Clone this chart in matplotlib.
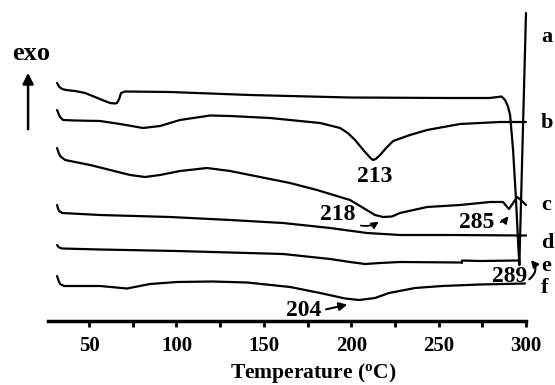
import matplotlib
matplotlib.use('Agg')
import matplotlib.pyplot as plt

plt.rcParams['font.family'] = ['Liberation Serif', 'DejaVu Serif']
plt.rcParams['font.weight'] = 'bold'
plt.rcParams['mathtext.default'] = 'regular'

# DSC traces (stacked, arbitrary heat-flow units)
temp_a = [31.7, 33.0, 34.6, 36.8, 42.0, 47.7, 53.4, 59.0, 62.0, 64.9, 66.0, 67.2, 68.3, 70.6, 96.3,
          142.0, 199.0, 256.5, 279.0, 284.0, 286.0, 288.0, 289.6, 290.9, 292.6, 294.3, 295.4,
          296.2, 300.0]
flow_a = [238, 234, 232, 231, 230, 228, 224, 220, 218, 217.5, 218, 222, 228, 229.5, 229,
          226, 223.5, 223, 223, 224, 224.5, 221, 215, 206, 171, 121, 81,
          56, 308]

temp_b = [31.7, 32.6, 33.4, 35.1, 42.0, 56.3, 67.7, 80.9, 90.6, 102.0, 113.5, 119.2, 130.7, 153.5,
          182.2, 193.6, 198.0, 202.2, 207.9, 211.0, 212.5, 214.0, 216.5, 220.0, 224.0, 233.6,
          243.4, 262.2, 285.1, 300.0]
flow_b = [211, 207, 204, 201, 200.5, 200, 197, 193, 195, 201, 204, 205.5, 205, 203,
          198, 193, 188, 181, 169, 163, 161, 162, 166, 173, 180, 186,
          191, 197, 199, 199]

temp_c = [31.7, 32.6, 33.4, 36.3, 50.6, 73.5, 82.0, 90.6, 102.0, 117.5, 130.7, 142.1, 165.0, 180.4,
          199.3, 207.9, 213.6, 218.2, 223.3, 227.9, 243.4, 262.2, 279.4, 286.8, 290.3, 294.9,
          297.1, 300.0]
flow_c = [173, 168, 165, 161, 156, 146, 144, 146, 150, 153, 150, 146, 138, 131,
          121, 112, 106, 104, 104.5, 108, 114, 116, 119, 119, 112, 124,
          121, 116]

temp_d = [31.7, 32.3, 32.9, 34.6, 56.3, 96.3, 130.7, 161.0, 187.9, 209.0, 228.0, 256.5, 300.0]
flow_d = [116, 112, 110, 108, 106, 104, 101, 98, 93, 88, 86, 86, 85.5]

temp_e = [31.7, 32.3, 32.9, 34.6, 56.3, 100.3, 161.0, 187.9, 199.3, 207.9, 216.5, 227.9, 262.7,
          263.3, 263.4, 273.7, 296.0]
flow_e = [76, 74.5, 73.5, 72.5, 71.5, 70, 67, 62, 59, 57, 58, 59, 58.5,
          58, 60.5, 60, 60.5]

temp_f = [31.7, 32.6, 33.4, 35.7, 56.3, 71.7, 84.9, 100.3, 120.4, 140.4, 165.0, 182.2, 196.5,
          204.5, 213.6, 221.6, 236.5, 252.0, 273.7, 299.4]
flow_f = [45, 40, 37, 35, 35, 32.5, 37, 39, 39.5, 38.5, 34, 28, 22.5,
          21, 23, 28, 33, 35, 36.5, 37.5]

curve_labels = ['a', 'b', 'c', 'd', 'e', 'f']
curve_label_y = [284, 198, 116, 78, 55, 33]
xticks = [50, 100, 150, 200, 250, 300]

fig = plt.figure(figsize=(5.55, 3.85), dpi=100)
ax = fig.add_axes([48 / 555, 64 / 385, 478 / 555, 321 / 385])

for t, f in [(temp_a, flow_a), (temp_b, flow_b), (temp_c, flow_c),
             (temp_d, flow_d), (temp_e, flow_e), (temp_f, flow_f)]:
    ax.plot(t, f, color='black', lw=1.6, clip_on=False,
            solid_joinstyle='round', solid_capstyle='round')

ax.set_xlim(26.5, 300)
ax.set_ylim(0, 321)
for s in ['top', 'right', 'left']:
    ax.spines[s].set_visible(False)
ax.spines['bottom'].set_linewidth(2.5)
ax.set_yticks([])
ax.set_xticks(xticks)
ax.set_xticks([75, 125, 175, 225, 275], minor=True)
ax.tick_params(axis='x', which='both', direction='out', length=4, width=2, pad=7, labelsize=15)
ax.set_xlabel('Temperature ($^{o}$C)', fontsize=15.5, fontweight='bold')
ax.xaxis.set_label_coords(0.555, -0.125)

for lab, y in zip(curve_labels, curve_label_y):
    ax.text(308.6, y, lab, fontsize=16, fontweight='bold', ha='left', va='center', clip_on=False)

# peak annotations
ax.text(213.6, 144, '213', fontsize=17, ha='center', va='center')
ax.text(192.4, 106, '218', fontsize=17, ha='center', va='center')
ax.annotate('', xy=(217, 101), xytext=(204, 96),
            arrowprops=dict(arrowstyle='-|>', color='black', lw=1.3, mutation_scale=10,
                            connectionstyle='arc3,rad=0.25'))
ax.text(272, 99, '285', fontsize=17, ha='center', va='center')
ax.annotate('', xy=(290.9, 107), xytext=(284, 98),
            arrowprops=dict(arrowstyle='-|>', color='black', lw=1.3, mutation_scale=10,
                            connectionstyle='arc3,rad=0.2'))
ax.text(290.8, 44, '289', fontsize=17, ha='center', va='center')
ax.annotate('', xy=(301.7, 63), xytext=(300.6, 40), annotation_clip=False,
            arrowprops=dict(arrowstyle='-|>', color='black', lw=1.5, mutation_scale=10,
                            connectionstyle='arc3,rad=0.6'))
ax.text(173, 11, '204', fontsize=17, ha='center', va='center')
ax.annotate('', xy=(199.3, 17), xytext=(184, 11),
            arrowprops=dict(arrowstyle='-|>', color='black', lw=1.5, mutation_scale=12))

# exo arrow
ax.text(16.8, 268, 'exo', fontsize=19, ha='center', va='center', clip_on=False)
ax.annotate('', xy=(15.1, 251), xytext=(15.1, 189), annotation_clip=False,
            arrowprops=dict(arrowstyle='-|>', color='black', lw=1.8, mutation_scale=16))

fig.savefig('out.png', dpi=100)
